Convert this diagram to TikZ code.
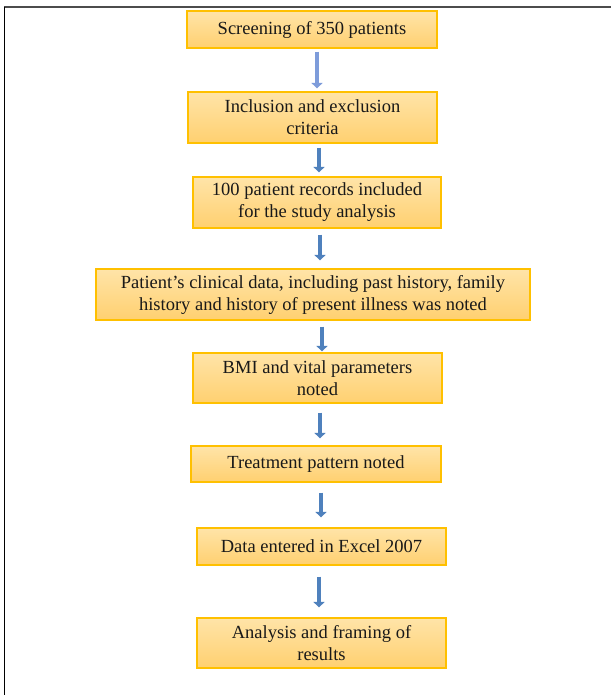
\documentclass[tikz,border=0pt]{standalone}
\usepackage{fontspec}
\setmainfont{Liberation Serif}
\usetikzlibrary{arrows.meta}
\definecolor{boxtop}{RGB}{255,228,168}
\definecolor{boxbot}{RGB}{255,208,112}
\definecolor{boxline}{RGB}{255,192,0}
\definecolor{arrblue}{RGB}{79,129,189}
\definecolor{arrlight}{RGB}{126,156,218}
\tikzset{
  stepbox/.style={draw=boxline, line width=1.2pt, top color=boxtop, bottom color=boxbot,
    align=center, inner sep=0pt, font=\fontsize{18.5}{22}\selectfont, text=black!90},
  flowarrow/.style={draw=arrblue, line width=4.5pt, -{Triangle[width=11pt,length=5.5pt]}},
}
\begin{document}
\begin{tikzpicture}[x=1pt,y=-1pt]
\useasboundingbox (0,0) rectangle (611,695);
\fill[white] (0,0) rectangle (611,695);
% outer frame
\draw[black!70, line width=2pt] (4,7.5) -- (611,7.5);
\draw[black, line width=1.6pt] (4.5,7) -- (4.5,695);

\node[stepbox, minimum width=250pt, minimum height=37pt] (b1) at (312,29.5) {Screening of 350 patients};
\node[stepbox, minimum width=249pt, minimum height=51pt] (b2) at (312.5,117.5) {Inclusion and exclusion\\criteria};
\node[stepbox, minimum width=248pt, minimum height=51pt] (b3) at (317,202.5) {100 patient records included\\for the study analysis};
\node[stepbox, minimum width=434pt, minimum height=51pt] (b4) at (313,294.5) {Patient's clinical data, including past history, family\\history and history of present illness was noted};
\node[stepbox, minimum width=249pt, minimum height=50pt] (b5) at (317.5,378) {BMI and vital parameters\\noted};
\node[stepbox, minimum width=250pt, minimum height=36pt] (b6) at (316,464) {Treatment pattern noted};
\node[stepbox, minimum width=249pt, minimum height=37pt] (b7) at (321.5,546.5) {Data entered in Excel 2007};
\node[stepbox, minimum width=249pt, minimum height=50pt] (b8) at (321.5,643) {Analysis and framing of\\results};

\draw[flowarrow, draw=arrlight, shorten <=3pt, shorten >=3pt] ([xshift=5pt]b1.south) -- ([xshift=5pt]b1.south |- b2.north);
\draw[flowarrow, shorten <=4pt, shorten >=4pt] ([xshift=6.5pt]b2.south) -- ([xshift=6.5pt]b2.south |- b3.north);
\draw[flowarrow, shorten <=6pt, shorten >=8pt] ([xshift=3pt]b3.south) -- ([xshift=3pt]b3.south |- b4.north);
\draw[flowarrow, shorten <=6pt, shorten >=1pt] ([xshift=9pt]b4.south) -- ([xshift=9pt]b4.south |- b5.north);
\draw[flowarrow, shorten <=9pt, shorten >=7pt] ([xshift=2.5pt]b5.south) -- ([xshift=2.5pt]b5.south |- b6.north);
\draw[flowarrow, shorten <=10pt, shorten >=10pt] ([xshift=5pt]b6.south) -- ([xshift=5pt]b6.south |- b7.north);
\draw[flowarrow, shorten <=11pt, shorten >=10pt] ([xshift=-2.5pt]b7.south) -- ([xshift=-2.5pt]b7.south |- b8.north);
\end{tikzpicture}
\end{document}
